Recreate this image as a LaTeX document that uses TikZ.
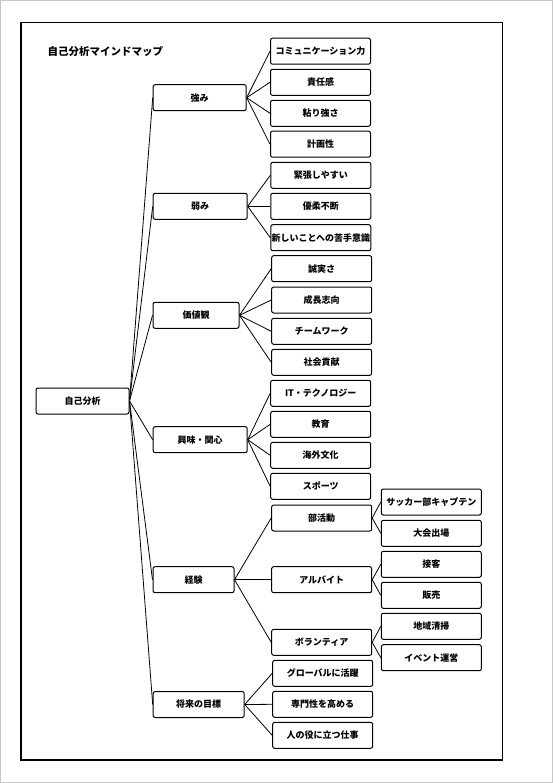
\documentclass[tikz,border=0pt]{standalone}
\usepackage{fontspec}
\setmainfont{Noto Sans CJK JP}
\begin{document}
\begin{tikzpicture}[x=1pt,y=-1pt,
  box/.style={draw, rounded corners=2pt, line width=1pt, minimum height=26pt, inner sep=0pt, font=\bfseries\fontsize{9}{9}\selectfont},
  w2/.style={box, minimum width=100pt},
  edge/.style={line width=0.8pt}]
\useasboundingbox (0,0) rectangle (553,783);
\draw[color={rgb,255:red,200;green,200;blue,200}, line width=1pt] (0.5,0.5) rectangle (552.5,782.5);
\draw[line width=1.1pt] (21,22.3) rectangle (502.3,760);
\node[anchor=west, font=\bfseries\fontsize{10.5}{10.5}\selectfont] (title) at (44,52) {自己分析マインドマップ};
% root
\node[box, minimum width=93pt] (root) at (82.5,401) {自己分析};
% level 1
\node[box, minimum width=93pt] (s) at (199.7,97.7) {強み};
\node[box, minimum width=94pt] (w) at (200.2,206.3) {弱み};
\node[box, minimum width=86pt] (v) at (196,315.3) {価値観};
\node[box, minimum width=94pt] (i) at (200.2,439.7) {興味・関心};
\node[box, minimum width=81pt] (e) at (193.5,579.7) {経験};
\node[box, minimum width=91pt] (g) at (198.7,704.5) {将来の目標};
% level 2
\node[w2] (s1) at (320.5,51.2) {コミュニケーション力};
\node[w2] (s2) at (320.5,82.3) {責任感};
\node[w2] (s3) at (320.5,113.3) {粘り強さ};
\node[w2] (s4) at (320.5,144.2) {計画性};
\node[w2] (w1) at (320.8,175.3) {緊張しやすい};
\node[w2] (w2) at (320.8,206.3) {優柔不断};
\node[w2] (w3) at (320.8,237.7) {新しいことへの苦手意識};
\node[w2] (v1) at (321.7,268.7) {誠実さ};
\node[w2] (v2) at (321.7,300) {成長志向};
\node[w2] (v3) at (321.7,331.3) {チームワーク};
\node[w2] (v4) at (321.7,362.3) {社会貢献};
\node[w2] (i1) at (320.7,393.3) {IT・テクノロジー};
\node[w2] (i2) at (320.7,424.3) {教育};
\node[w2] (i3) at (320.7,455.3) {海外文化};
\node[w2] (i4) at (320.7,486.3) {スポーツ};
\node[w2] (e1) at (321.7,518) {部活動};
\node[w2] (e2) at (321.7,579.7) {アルバイト};
\node[w2] (e3) at (321.7,642.3) {ボランティア};
\node[w2] (g1) at (322.7,673.3) {グローバルに活躍};
\node[w2] (g2) at (322.7,704.3) {専門性を高める};
\node[w2] (g3) at (322.7,735.3) {人の役に立つ仕事};
% level 3
\node[w2] (e11) at (431.3,502) {サッカー部キャプテン};
\node[w2] (e12) at (431.3,533.3) {大会出場};
\node[w2] (e21) at (431.3,564.3) {接客};
\node[w2] (e22) at (431.3,595.3) {販売};
\node[w2] (e31) at (431.3,626.3) {地域清掃};
\node[w2] (e32) at (431.3,657.7) {イベント運営};
% edges
\foreach \c in {s,w,v,i,e,g} \draw[edge] (root.east) -- (\c.west);
\foreach \c in {s1,s2,s3,s4} \draw[edge] (s.east) -- (\c.west);
\foreach \c in {w1,w2,w3} \draw[edge] (w.east) -- (\c.west);
\foreach \c in {v1,v2,v3,v4} \draw[edge] (v.east) -- (\c.west);
\foreach \c in {i1,i2,i3,i4} \draw[edge] (i.east) -- (\c.west);
\foreach \c in {e1,e2,e3} \draw[edge] (e.east) -- (\c.west);
\foreach \c in {g1,g2,g3} \draw[edge] (g.east) -- (\c.west);
\foreach \c in {e11,e12} \draw[edge] (e1.east) -- (\c.west);
\foreach \c in {e21,e22} \draw[edge] (e2.east) -- (\c.west);
\foreach \c in {e31,e32} \draw[edge] (e3.east) -- (\c.west);
\end{tikzpicture}
\end{document}
